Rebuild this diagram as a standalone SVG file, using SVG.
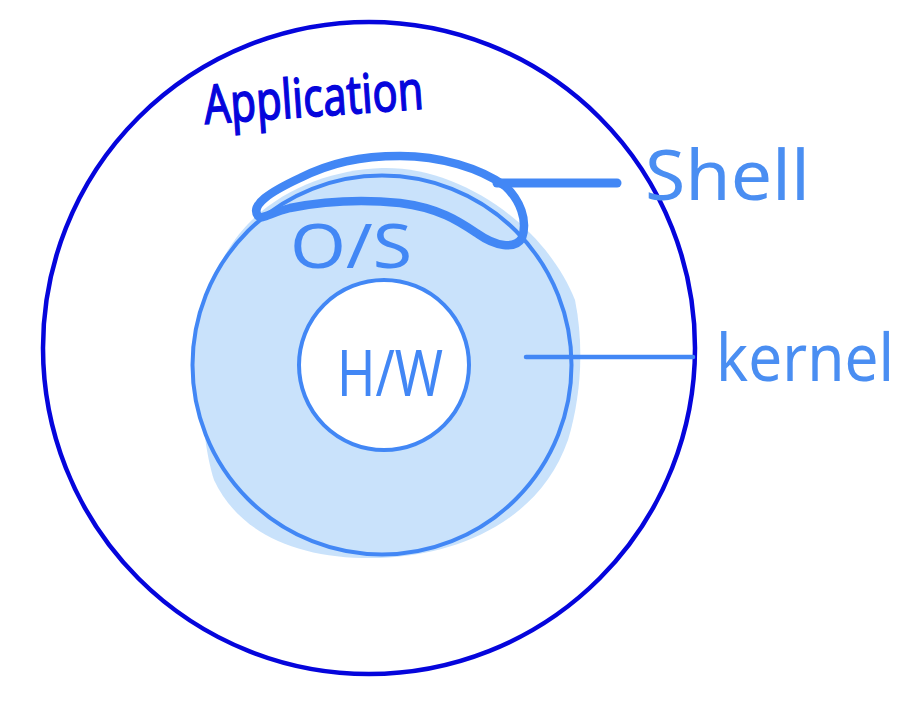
<svg xmlns="http://www.w3.org/2000/svg" width="919" height="714" viewBox="0 0 919 714">
  <style>
    .ring { fill: none; stroke-linecap: round; }
    .lbl { font-family: "Noto Sans", "Liberation Sans", sans-serif; font-weight: 400; }
    .lightblue { fill: #4287f5; }
  </style>
  <rect width="919" height="714" fill="#ffffff"/>

  <g id="application">
    <circle cx="369" cy="348" r="326" class="ring" stroke="#0505dc" stroke-width="4.5"/>
    <text class="lbl" x="205" y="124" font-size="54" fill="#0505dc" stroke="#0505dc" stroke-width="1.4" textLength="220" lengthAdjust="spacingAndGlyphs" transform="rotate(-4 205 124)">Application</text>
  </g>

  <g id="os-kernel">
    <path d="M382 168 C460 166 545 225 575 300 C585 350 580 400 568 440 C540 520 460 555 380 558 C300 560 240 535 214 480 C198 430 195 330 220 265 C250 200 320 170 382 168 Z" fill="#c9e2fb"/>
    <circle cx="382" cy="365" r="189.5" fill="#c9e2fb" stroke="#4287f5" stroke-width="4"/>
    <text class="lbl lightblue" x="290" y="268" font-size="62" textLength="122" lengthAdjust="spacingAndGlyphs">O/S</text>
  </g>

  <g id="hardware">
    <circle cx="384" cy="365" r="85" fill="#ffffff" stroke="#4287f5" stroke-width="4"/>
    <text class="lbl lightblue" x="337" y="396" font-size="64" textLength="106" lengthAdjust="spacingAndGlyphs">H/W</text>
  </g>

  <g id="shell">
    <path d="M258 216 C250 205 270 192 300 178 C330 163 360 156 400 156 C440 156 480 168 505 186 C520 200 528 220 522 238 C515 250 495 246 478 234 C460 222 440 208 400 203 C360 199 320 202 290 208 C270 213 262 220 258 216 Z" fill="none" stroke="#4287f5" stroke-width="8.5" stroke-linejoin="round"/>
    <text class="lbl" x="645" y="200" font-size="70" fill="#4a8ef2" textLength="165" lengthAdjust="spacingAndGlyphs">Shell</text>
  </g>

  <g id="kernel-label">
    <text class="lbl" x="716" y="381" font-size="66" fill="#4a8ef2" textLength="178" lengthAdjust="spacingAndGlyphs">kernel</text>
  </g>

  <g id="connectors" stroke="#4287f5" stroke-linecap="round" fill="none">
    <line x1="497" y1="183" x2="617" y2="183" stroke-width="9"/>
    <line x1="526" y1="357" x2="693" y2="357" stroke-width="4.5"/>
  </g>
</svg>
